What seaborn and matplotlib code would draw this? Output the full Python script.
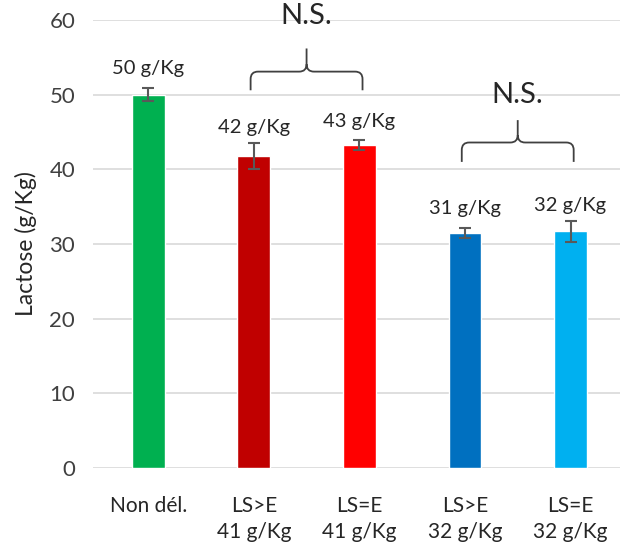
import matplotlib
matplotlib.use("Agg")
import matplotlib.pyplot as plt
from matplotlib.path import Path
from matplotlib.patches import PathPatch
import seaborn as sns
import pandas as pd

categories = ["Non dél.", "LS>E\n41 g/Kg", "LS=E\n41 g/Kg", "LS>E\n32 g/Kg", "LS=E\n32 g/Kg"]
values = [50.0, 41.8, 43.3, 31.5, 31.7]
errors = [0.9, 1.7, 0.7, 0.7, 1.4]
value_labels = ["50 g/Kg", "42 g/Kg", "43 g/Kg", "31 g/Kg", "32 g/Kg"]
label_y = [53.5, 45.6, 46.4, 34.7, 35.1]
colors = ["#00B050", "#C00000", "#FF0000", "#0070C0", "#00B0F0"]
groups = [(1, 2, "N.S.", 50.6, 53.1, 56.2, 60.6), (3, 4, "N.S.", 41.0, 43.6, 46.6, 50.0)]

sns.set_theme(style="white")
plt.rcParams["font.family"] = ["Lato", "DejaVu Sans"]

df = pd.DataFrame({"cat": categories, "val": values})
fig = plt.figure(figsize=(6.22, 5.44), dpi=100)
ax = fig.add_axes([0.150, 0.140, 0.847, 0.823])
sns.barplot(data=df, x="cat", y="val", hue="cat", palette=colors, width=0.31,
            legend=False, ax=ax, errorbar=None, saturation=1)
ax.errorbar(range(len(values)), values, yerr=errors, fmt="none", ecolor="#595959",
            elinewidth=1.5, capsize=4, capthick=1.5, zorder=5)

ax.set_ylim(0, 60)
ax.set_xlim(-0.52, 4.47)
ax.set_yticks(range(0, 61, 10))
ax.yaxis.grid(True, color="#D9D9D9", linewidth=1.2)
ax.set_axisbelow(True)
for s in ax.spines.values():
    s.set_visible(False)
ax.tick_params(axis="y", labelsize=16, labelcolor="#404040", length=0, pad=13)
ax.tick_params(axis="x", labelsize=15, labelcolor="#262626", length=0, pad=20)
for lbl in ax.get_xticklabels():
    lbl.set_linespacing(1.4)
ax.set_xlabel("")
ax.set_ylabel("Lactose (g/Kg)", fontsize=16.5, color="#262626")
ax.yaxis.set_label_coords(-0.107, 0.5)

for i, (t, y) in enumerate(zip(value_labels, label_y)):
    ax.text(i, y, t, ha="center", va="center", fontsize=14.5, color="#262626")

def brace(x0, x1, yb, yh, yp):
    xm = (x0 + x1) / 2
    rx, ry = 0.07, 1.0
    verts = [(x0, yb), (x0, yh - ry), (x0, yh), (x0 + rx, yh),
             (xm - rx, yh), (xm, yh), (xm, yh + ry), (xm, yp),
             (xm, yh + ry), (xm, yh), (xm + rx, yh),
             (x1 - rx, yh), (x1, yh), (x1, yh - ry), (x1, yb)]
    codes = [Path.MOVETO, Path.LINETO, Path.CURVE3, Path.CURVE3,
             Path.LINETO, Path.CURVE3, Path.CURVE3, Path.LINETO,
             Path.MOVETO, Path.CURVE3, Path.CURVE3,
             Path.LINETO, Path.CURVE3, Path.CURVE3, Path.LINETO]
    ax.add_patch(PathPatch(Path(verts, codes), fill=False, edgecolor="#404040",
                           linewidth=1.3, clip_on=False))

for a, b, txt, yb, yh, yp, yt in groups:
    x0 = a - 0.03
    x1 = b + 0.03
    brace(x0, x1, yb, yh, yp)
    ax.text((a + b) / 2, yt, txt, ha="center", va="center", fontsize=21,
            color="#262626", clip_on=False)

fig.savefig("out.png", dpi=100)
